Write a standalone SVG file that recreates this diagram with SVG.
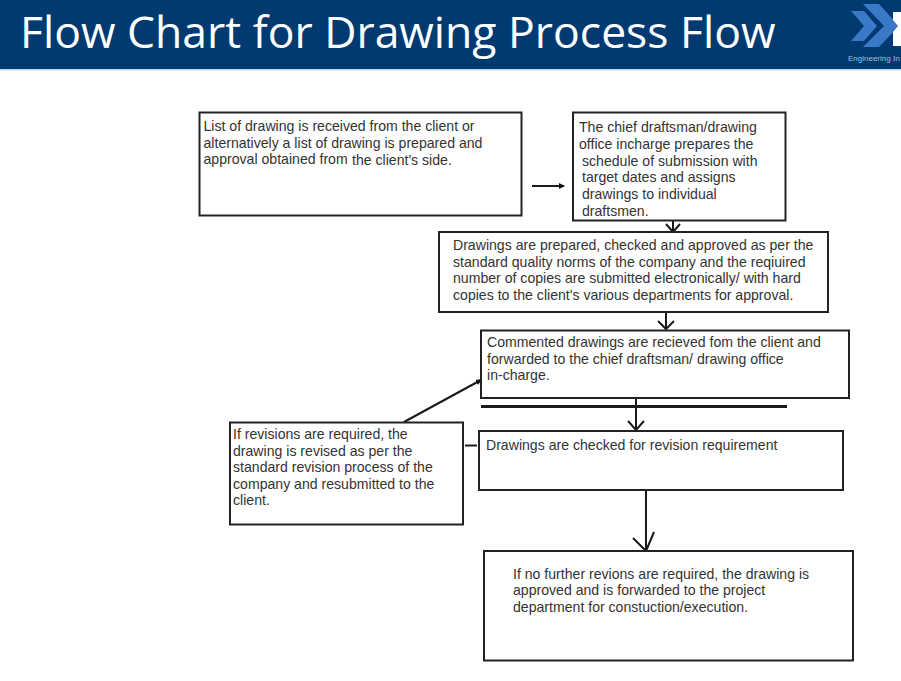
<svg xmlns="http://www.w3.org/2000/svg" width="901" height="681" viewBox="0 0 901 681">
<style>
text{font-family:"Liberation Sans",Arial,sans-serif}
.t{font-size:14.1px;fill:#333}
.b{fill:#fff;stroke:#222;stroke-width:2}
.c{fill:none;stroke:#1a1a1a;stroke-width:2}
.h{stroke-width:3}
</style>
<defs>
<marker id="solid" markerWidth="8" markerHeight="8" refX="5" refY="3" orient="auto" markerUnits="userSpaceOnUse"><path d="M0,0L6,3L0,6Z" fill="#111"/></marker>
</defs>
<rect width="901" height="681" fill="#fff"/>
<g id="header">
<rect width="901" height="69" fill="#003a70"/>
<rect y="69" width="901" height="1.5" fill="#bcd8ee"/>
<text x="20" y="48" font-size="44.500" style="font-family:'Open Sans','Noto Sans',sans-serif" fill="#fff">Flow Chart for Drawing Process Flow</text>
<path d="M851,11H864L877,26L864,41H851L864,26Z" fill="#3a78c8"/>
<path d="M863,4H879L899,26L879,47H863L884,26Z" fill="#3a78c8"/>
<path d="M893,12H901V46H893V32L898,26L893,20Z" fill="#fff"/>
<text x="848" y="61" font-size="8" fill="#a9bdd2">Engineering In</text>
</g>
<g id="connectors">
<path class="c" d="M532,186H564" marker-end="url(#solid)"/>
<path class="c" d="M673,221V232M666,224L673,232L680,224"/>
<path class="c" d="M666,312V329M658,321L666,329L674,321"/>
<path class="c" d="M636,397V430M628,421L636,430L644,421"/>
<path class="c h" d="M481,406.500H787"/>
<path class="c" d="M404,422L481,380" marker-end="url(#solid)"/>
<path class="c" d="M465,445.500H477"/>
<path class="c" d="M646,491V551M633,538L646,551L654,532"/>
</g>
<g id="node-list"><rect class="b" x="199.500" y="112.500" width="322" height="103"/>
<text class="t"><tspan x="203.500" y="130.500">List of drawing is received from the client or</tspan><tspan x="203.500" y="147.500">alternatively a list of drawing is prepared and</tspan><tspan x="203.500" y="164">approval obtained from</tspan><tspan x="352" y="164.500">the client's side.</tspan></text></g>
<g id="node-schedule"><rect class="b" x="573" y="112.500" width="212.500" height="108"/>
<text class="t"><tspan x="579" y="131.500">The chief draftsman/drawing</tspan><tspan x="579" y="148.500">office incharge prepares the</tspan><tspan x="582" y="165.500">schedule of submission with</tspan><tspan x="582" y="181.500">target dates and assigns</tspan><tspan x="582" y="198.500">drawings to individual</tspan><tspan x="582" y="215.500">draftsmen.</tspan></text></g>
<g id="node-prepare"><rect class="b" x="439" y="232" width="389" height="80"/>
<text class="t"><tspan x="453" y="249.500">Drawings are prepared, checked and approved as per the</tspan><tspan x="453" y="266.500">standard quality norms of the company and the reqiuired</tspan><tspan x="453" y="282.500">number of copies are submitted electronically/ with hard</tspan><tspan x="453" y="299.500">copies to the client's various departments for approval.</tspan></text></g>
<g id="node-commented"><rect class="b" x="481" y="330.500" width="368" height="67.500"/>
<text class="t"><tspan x="487" y="346.500">Commented drawings are recieved fom the client and</tspan><tspan x="487" y="363.500">forwarded to the chief draftsman/ drawing office</tspan><tspan x="487" y="379.500">in-charge.</tspan></text></g>
<g id="node-check"><rect class="b" x="479" y="431" width="364" height="59"/>
<text class="t"><tspan x="486" y="449.500">Drawings are checked for revision requirement</tspan></text></g>
<g id="node-revise"><rect class="b" x="230" y="422.500" width="233" height="102"/>
<text class="t"><tspan x="233" y="438.500">If revisions are required, the</tspan><tspan x="233" y="455.500">drawing is revised as per the</tspan><tspan x="233" y="471.500">standard revision process of the</tspan><tspan x="233" y="488.500">company and resubmitted to the</tspan><tspan x="233" y="504.500">client.</tspan></text></g>
<g id="node-approved"><rect class="b" x="484" y="551" width="369" height="109.500"/>
<text class="t"><tspan x="513" y="578.500">If no further revions are required, the drawing is</tspan><tspan x="513" y="594.500">approved and is forwarded to the project</tspan><tspan x="513" y="611.500">department for constuction/execution.</tspan></text></g>
</svg>
